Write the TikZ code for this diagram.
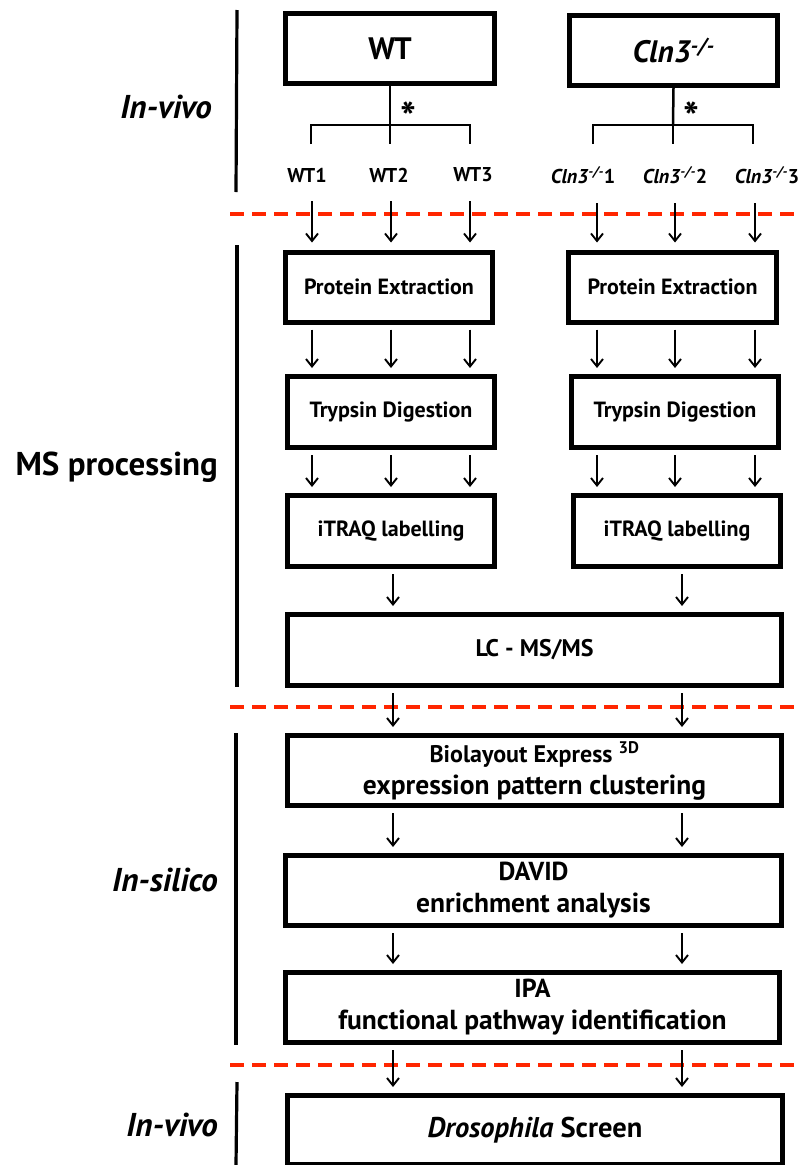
\documentclass[tikz,border=0pt]{standalone}
\usepackage{fontspec}
\setmainfont{PT Sans}
\usetikzlibrary{arrows.meta}
\definecolor{dashred}{RGB}{255,38,0}
\newcommand{\bigline}[1]{{\fontsize{27.5}{31}\selectfont #1}}
\begin{document}
\begin{tikzpicture}[x=1pt,y=-1pt,
  box/.style={draw, line width=5pt, inner sep=0pt, align=center,
    font=\bfseries\fontsize{22}{31}\selectfont},
  wbox/.style={box, font=\bfseries\fontsize{24}{32}\selectfont},
  arr/.style={line width=1.9pt, -{Straight Barb[length=7.5pt,width=12pt,line width=1.9pt]},
    shorten <=5pt, shorten >=6pt},
  sect/.style={line width=3.2pt},
  sep/.style={draw=dashred, line width=4pt, dash pattern=on 14pt off 8pt},
  side/.style={inner sep=0pt, anchor=east, font=\bfseries\fontsize{33}{36}\selectfont},
  smp/.style={inner sep=0pt, font=\bfseries\fontsize{20}{22}\selectfont},
  brk/.style={line width=2.5pt},
  ast/.style={inner sep=0pt, font=\bfseries\fontsize{42}{44}\selectfont},
]
\useasboundingbox (0,0) rectangle (802,1165);

% section labels and bars
\node[side] (lab1) at (212,107) {\itshape In-vivo};
\node[side] (lab2) at (218,467) {MS processing};
\node[side] (lab3) at (218,880) {\itshape In-silico};
\node[side] (lab4) at (218,1125) {\itshape In-vivo};
\draw[sect] (237,10) -- (236,192);
\draw[sect] (237,245) -- (237,687);
\draw[sect] (236,733) -- (236,1045);
\draw[sect] (237,1082) -- (236,1165);

% separators
\draw[sep] (230,214) -- (802,214);
\draw[sep] (230,707) -- (802,707);
\draw[sep] (230,1065) -- (802,1065);

% genotype boxes
\node[box, minimum width=209pt, minimum height=70pt, font=\bfseries\fontsize{31}{34}\selectfont] (wt) at (390,48.5) {WT};
\node[box, minimum width=208pt, minimum height=70pt, font=\bfseries\fontsize{31}{34}\selectfont] (ko) at (673.5,50.5) {\itshape Cln3\textsuperscript{-/-}};

% brackets
\coordinate (wtj) at (390,125);
\coordinate (koj) at (673,125);
\coordinate (wd1) at (311,144);
\coordinate (wd2) at (390,144);
\coordinate (wd3) at (470,144);
\coordinate (kd1) at (593,144);
\coordinate (kd2) at (673,144);
\coordinate (kd3) at (753,144);
\draw[brk] (wt.south) -- (wtj);
\draw[brk] (wd1) |- (wtj) -| (wd3);
\draw[brk] (wtj) -- (wd2);
\draw[brk] (ko.south) -- (koj);
\draw[brk] (kd1) |- (koj) -| (kd3);
\draw[brk] (koj) -- (kd2);
\node[ast] (as1) at (408,117) {*};
\node[ast] (as2) at (691,117) {*};

% samples
\node[smp] (s1) at (307,175) {WT1};
\node[smp] (s2) at (389,175) {WT2};
\node[smp] (s3) at (473,175) {WT3};
\node[smp] (s4) at (583,175) {\itshape Cln3\textsuperscript{-/-}\upshape 1};
\node[smp] (s5) at (675,175) {\itshape Cln3\textsuperscript{-/-}\upshape 2};
\node[smp] (s6) at (767,175) {\itshape Cln3\textsuperscript{-/-}\upshape 3};

% column x positions
\coordinate (a1) at (312,0);
\coordinate (a2) at (391,0);
\coordinate (a3) at (470,0);
\coordinate (b1) at (597,0);
\coordinate (b2) at (675,0);
\coordinate (b3) at (755,0);
\coordinate (m1) at (393,0);
\coordinate (m2) at (682,0);

% processing boxes
\node[box, minimum width=207pt, minimum height=70pt] (pe1) at (389,287) {Protein Extraction};
\node[box, minimum width=208pt, minimum height=70pt] (pe2) at (672.5,287) {Protein Extraction};
\node[box, minimum width=207pt, minimum height=71pt] (td1) at (391,412) {Trypsin Digestion};
\node[box, minimum width=207pt, minimum height=71pt] (td2) at (675,412) {Trypsin Digestion};
\node[box, minimum width=207pt, minimum height=71pt] (it1) at (391,531) {iTRAQ labelling};
\node[box, minimum width=207pt, minimum height=71pt] (it2) at (677,531) {iTRAQ labelling};
\node[wbox, minimum width=494pt, minimum height=71pt] (lc) at (534.5,650) {LC - MS/MS};
\node[wbox, minimum width=494pt, minimum height=70pt] (bio) at (534.5,770.5) {Biolayout Express \textsuperscript{3D}\\\bigline{expression pattern clustering}};
\node[wbox, minimum width=496pt, minimum height=70pt] (dav) at (533.5,890.5) {\fontsize{26}{32}\selectfont DAVID\\\bigline{enrichment analysis}};
\node[wbox, minimum width=494pt, minimum height=70pt] (ipa) at (532.5,1007.5) {\fontsize{26}{32}\selectfont IPA\\\bigline{functional pathway identification}};
\node[wbox, minimum width=495pt, minimum height=69pt, font=\bfseries\fontsize{28.5}{32}\selectfont] (dro) at (535,1130) {\itshape Drosophila\upshape{} Screen};

% sample arrows
\foreach \s/\c/\t in {s1/a1/pe1, s2/a2/pe1, s3/a3/pe1, s4/b1/pe2, s5/b2/pe2, s6/b3/pe2}
  \draw[arr, shorten <=19pt, shorten >=7pt] (\s.south -| \c) -- (\t.north -| \c);

% column arrows
\foreach \c in {a1,a2,a3} {
  \draw[arr] (pe1.south -| \c) -- (td1.north -| \c);
  \draw[arr] (td1.south -| \c) -- (it1.north -| \c);
}
\foreach \c in {b1,b2,b3} {
  \draw[arr] (pe2.south -| \c) -- (td2.north -| \c);
  \draw[arr] (td2.south -| \c) -- (it2.north -| \c);
}
\draw[arr] (it1.south -| m1) -- (lc.north -| m1);
\draw[arr] (it2.south -| m2) -- (lc.north -| m2);
\foreach \u/\v in {lc/bio, bio/dav, dav/ipa, ipa/dro} {
  \draw[arr] (\u.south -| m1) -- (\v.north -| m1);
  \draw[arr] (\u.south -| m2) -- (\v.north -| m2);
}
\end{tikzpicture}
\end{document}
